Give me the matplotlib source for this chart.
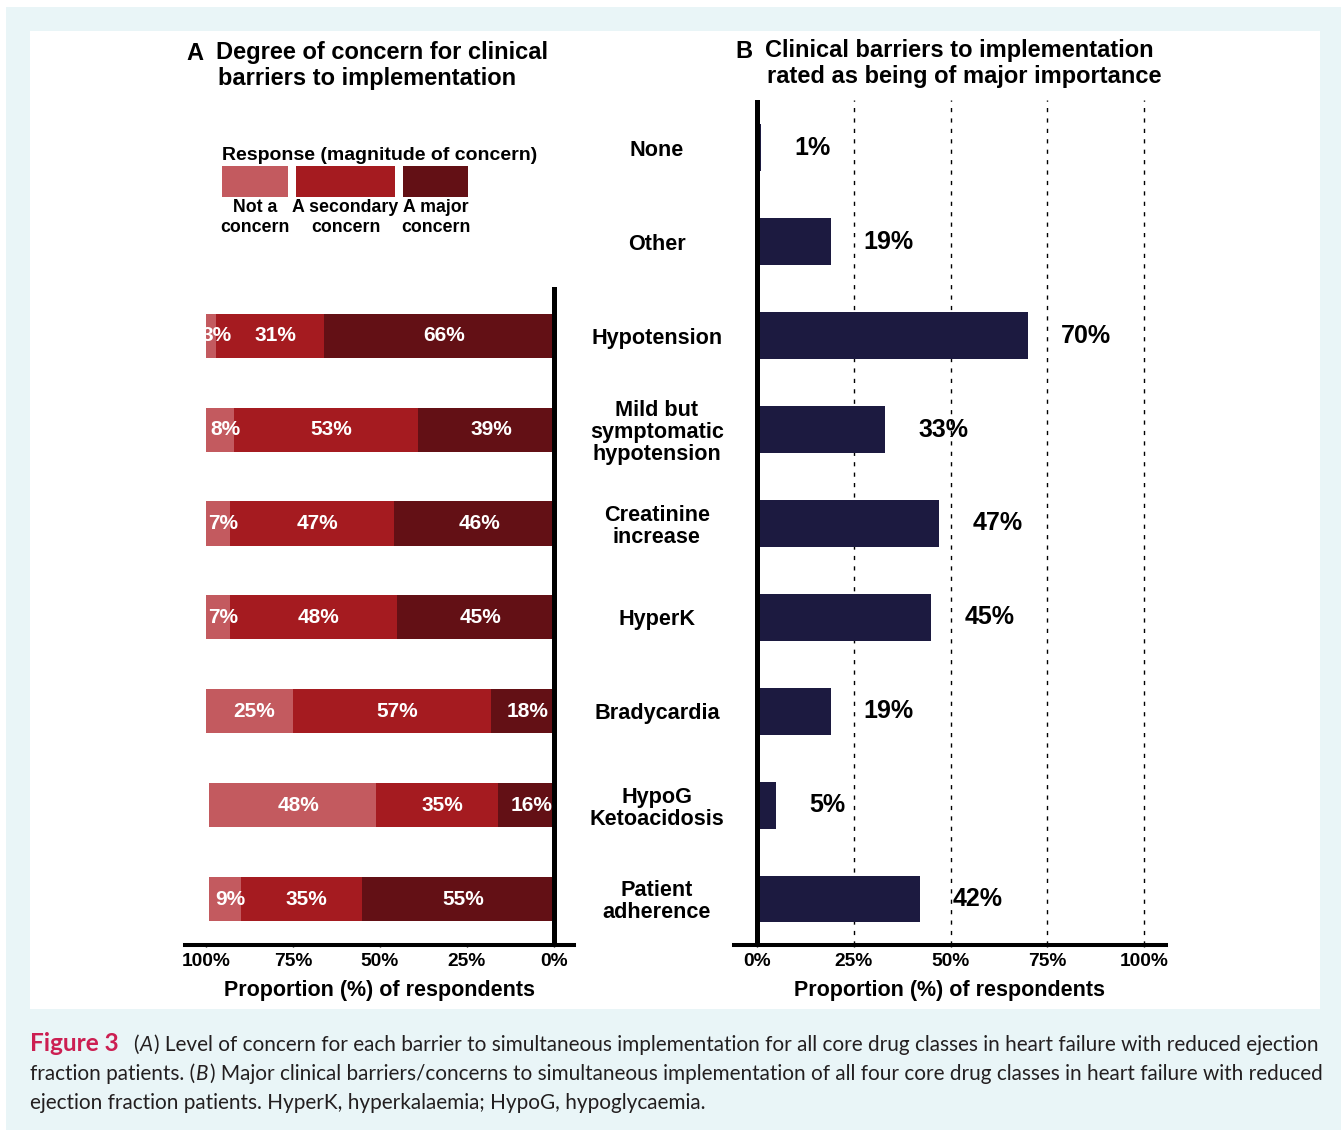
import numpy as np
import matplotlib
matplotlib.use("Agg")
import matplotlib.pyplot as plt
from matplotlib.patches import Rectangle

plt.rcParams['font.family'] = ['Liberation Sans', 'DejaVu Sans']
plt.rcParams['font.weight'] = 'bold'

# ---- data ----
barriers_a = ['Hypotension', 'Mild but\nsymptomatic\nhypotension', 'Creatinine\nincrease',
              'HyperK', 'Bradycardia', 'HypoG\nKetoacidosis', 'Patient\nadherence']
not_concern = [3, 8, 7, 7, 25, 48, 9]
secondary_concern = [31, 53, 47, 48, 57, 35, 35]
major_concern = [66, 39, 46, 45, 18, 16, 55]

barriers_b = ['None', 'Other'] + barriers_a
major_importance = [1, 19, 70, 33, 47, 45, 19, 5, 42]

ticks_a = [100, 75, 50, 25, 0]
ticks_b = [0, 25, 50, 75, 100]
legend_labels = ['Not a\nconcern', 'A secondary\nconcern', 'A major\nconcern']

c_not = '#c35a5f'
c_sec = '#a51b20'
c_maj = '#631015'
c_navy = '#1c1a40'
c_bg = '#e9f5f7'

W, H = 1341, 1130
fig = plt.figure(figsize=(W / 100, H / 100), dpi=100)
fig.patch.set_facecolor('white')


def fx(x):
    return x / W


def fy(y):
    return 1 - y / H


def ax_rect(l, t, r, b):
    return [l / W, 1 - b / H, (r - l) / W, (b - t) / H]


# background panels
fig.add_artist(Rectangle((fx(6), 0), (W - 6) / W, (H - 7) / H, transform=fig.transFigure,
                         facecolor=c_bg, edgecolor='none', zorder=-10))
fig.add_artist(Rectangle((fx(30), fy(1009)), 1290 / W, (1009 - 31) / H, transform=fig.transFigure,
                         facecolor='white', edgecolor='none', zorder=-9))

# ---- panel A ----
ax1 = fig.add_axes(ax_rect(185, 287, 574, 945))
ax1.patch.set_alpha(0)
ya = np.arange(2, 2 + len(barriers_a))
maj = np.array(major_concern)
sec = np.array(secondary_concern)
nc = np.array(not_concern)
ax1.barh(ya, maj, left=0, height=0.47, color=c_maj)
ax1.barh(ya, sec, left=maj, height=0.47, color=c_sec)
ax1.barh(ya, nc, left=maj + sec, height=0.47, color=c_not)
for y, n, s, m in zip(ya, nc, sec, maj):
    for val, lo in ((m, 0), (s, m), (n, m + s)):
        ax1.text(lo + val / 2 - 1.5, y, f'{val}%', ha='center', va='center',
                 color='white', fontsize=15, fontweight='bold')
ax1.axvline(0, color='black', lw=3.6, zorder=5)
ax1.set_xlim(106.0, -5.8)
ax1.set_ylim(8.49, 1.48)
ax1.set_yticks([])
ax1.set_xticks(ticks_a, [f'{t}%' for t in ticks_a])
for sp in ['top', 'right', 'left']:
    ax1.spines[sp].set_visible(False)
ax1.spines['bottom'].set_linewidth(2.9)
ax1.tick_params(axis='x', length=3, width=1, direction='inout', labelsize=13.8, pad=4.5)
ax1.set_xlabel('Proportion (%) of respondents', fontsize=15.5, fontweight='bold', labelpad=7)

# ---- panel B ----
ax2 = fig.add_axes(ax_rect(734, 100, 1166, 945))
ax2.patch.set_alpha(0)
yb = np.arange(len(barriers_b))
ax2.barh(yb, major_importance, height=0.5, color=c_navy)
for y, v in zip(yb, major_importance):
    ax2.annotate(f'{v}%', xy=(v, y), xytext=(24, 0), textcoords='offset points',
                 ha='left', va='center', fontsize=18, fontweight='bold')
for v in [25, 50, 75, 100]:
    ax2.axvline(v, color='black', lw=1.0, ls=(0, (3, 4.5)), zorder=0)
ax2.axvline(0, color='black', lw=3.6, zorder=5)
ax2.set_xlim(-5.94, 105.68)
ax2.set_ylim(8.49, -0.51)
ax2.set_xticks(ticks_b, [f'{t}%' for t in ticks_b])
ax2.set_yticks(yb, barriers_b)
for sp in ['top', 'right', 'left']:
    ax2.spines[sp].set_visible(False)
ax2.spines['bottom'].set_linewidth(2.9)
ax2.tick_params(axis='x', length=3, width=1, direction='inout', labelsize=13.8, pad=4.5)
ax2.tick_params(axis='y', length=0, pad=55.5, labelsize=15.6)
for lbl in ax2.get_yticklabels():
    lbl.set_ha('center')
    lbl.set_linespacing(1.06)
    lbl.set_fontweight('bold')
ax2.set_xlabel('Proportion (%) of respondents', fontsize=15.5, fontweight='bold', labelpad=7)

# ---- titles ----
tkw = dict(fontsize=17, fontweight='bold', va='center', ha='left')
fig.text(fx(186), fy(53), 'A', **tkw)
fig.text(fx(216), fy(53), 'Degree of concern for clinical', **tkw)
fig.text(fx(218), fy(79), 'barriers to implementation', **tkw)
fig.text(fx(735), fy(51), 'B', **tkw)
fig.text(fx(765), fy(51), 'Clinical barriers to implementation', **tkw)
fig.text(fx(767), fy(77), 'rated as being of major importance', **tkw)

# ---- legend ----
fig.text(fx(222), fy(155), 'Response (magnitude of concern)', fontsize=14,
         fontweight='bold', va='center', ha='left')
for (l, r), col, lab in zip([(222, 288), (296, 395), (403, 468)], [c_not, c_sec, c_maj], legend_labels):
    fig.add_artist(Rectangle((fx(l), fy(197)), (r - l) / W, 31 / H, transform=fig.transFigure,
                             facecolor=col, edgecolor='none'))
    fig.text(fx((l + r) / 2), fy(199), lab, fontsize=12.8, fontweight='bold',
             ha='center', va='top', linespacing=1.25)

# ---- caption ----
renderer = fig.canvas.get_renderer()
cap_font = ['Lato', 'DejaVu Sans']
cap_size = 14.95
cap_col = '#231f20'


def draw_runs(runs, x0, yb_px):
    x = x0
    for s, style in runs:
        gap = 0
        if s.startswith(' '):
            gap = 7 * (len(s) - len(s.lstrip(' ')))
            s = s.lstrip(' ')
        props = dict(family=cap_font, fontsize=cap_size, color=cap_col, fontweight='normal')
        props.update(style)
        t = fig.text(fx(x + gap), fy(yb_px), s, ha='left', va='baseline', **props)
        bb = t.get_window_extent(renderer)
        x = bb.x1 + 1


draw_runs([('Figure 3', dict(fontweight='bold', color='#cc1f52', fontsize=17.6)), ('  (', {}),
           ('A', dict(style='italic')),
           (') Level of concern for each barrier to simultaneous implementation for all core drug classes in heart failure with reduced ejection', {})],
          30, 1051)
draw_runs([('fraction patients. (', {}), ('B', dict(style='italic')),
           (') Major clinical barriers/concerns to simultaneous implementation of all four core drug classes in heart failure with reduced', {})],
          30, 1080)
draw_runs([('ejection fraction patients. HyperK, hyperkalaemia; HypoG, hypoglycaemia.', {})], 30, 1109)

fig.savefig('out.png', dpi=100)
